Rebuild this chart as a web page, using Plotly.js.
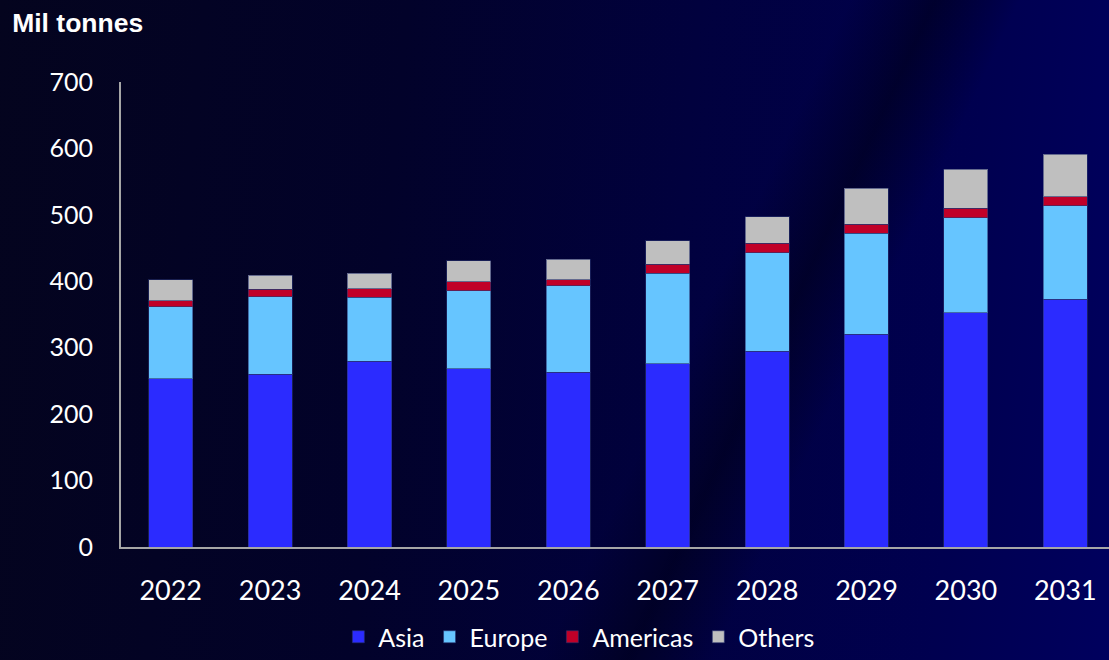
<!DOCTYPE html>
<html>
<head>
<meta charset="utf-8">
<script src="https://cdn.plot.ly/plotly-3.0.1.min.js"></script>
<style>
  html, body { margin:0; padding:0; width:1109px; height:660px; overflow:hidden; }
  body {
    background:
      linear-gradient(115deg, rgba(0,0,0,0) 0%, rgba(0,0,0,0) 60%, rgba(0,0,20,0.55) 66%, rgba(0,0,0,0) 72%, rgba(0,0,0,0) 100%),
      linear-gradient(95deg, #04041e 0%, #02022a 35%, #01013e 60%, #000050 85%, #00005e 100%);
  }
  #chart { width:1109px; height:660px; }
</style>
</head>
<body>
<div id="chart"></div>
<script>
const years = ['2022','2023','2024','2025','2026','2027','2028','2029','2030','2031'];
const asia     = [253, 260, 280, 268, 263, 276, 295, 320, 353, 373];
const europe   = [109, 117,  96, 118, 130, 136, 148, 152, 143, 141];
const americas = [  9,  11,  13,  13,   9,  14,  14,  14,  14,  13];
const others   = [ 31,  21,  23,  32,  31,  35,  40,  54,  59,  64];
const yTicks   = [0, 100, 200, 300, 400, 500, 600, 700];

const series = [
  {name:'Asia', values: asia, color:'#2b2bff'},
  {name:'Europe', values: europe, color:'#66c5ff'},
  {name:'Americas', values: americas, color:'#c00028'},
  {name:'Others', values: others, color:'#bfbfbf'}
];

const traces = series.map(s => ({
  type:'bar', name:s.name, x:years, y:s.values,
  marker:{color:s.color, line:{color:'rgba(40,50,110,0.6)', width:1}},
  hoverinfo:'skip'
}));

const tickFont = {family:'Lato, "Open Sans", sans-serif', size:25, color:'#ffffff'};

const layout = {
  width:1109, height:660,
  paper_bgcolor:'rgba(0,0,0,0)', plot_bgcolor:'rgba(0,0,0,0)',
  barmode:'stack', bargap:0.557,
  margin:{l:121, r:0, t:82, b:113, pad:0, autoexpand:false},
  title:{text:'<b>Mil tonnes</b>', x:0.011, xanchor:'left', y:0.966, yanchor:'middle',
         font:{family:'"Liberation Sans", Arial, sans-serif', size:26.5, color:'#ffffff'}},
  xaxis:{type:'category', range:[-0.5, 9.44], showgrid:false, zeroline:false,
         showline:true, linecolor:'#a6a6a6', linewidth:2, ticks:'', automargin:false,
         tickfont:{family:tickFont.family, size:27, color:'#ffffff'}, ticklabelstandoff:19},
  yaxis:{range:[0,700], tickvals:yTicks, showgrid:false, zeroline:false,
         showline:true, linecolor:'#a6a6a6', linewidth:2, ticks:'', automargin:false,
         tickfont:tickFont, ticklabelstandoff:21},
  showlegend:true,
  legend:{orientation:'h', x:0.22, xanchor:'left', yref:'container', y:0.0, yanchor:'bottom',
          font:{family:tickFont.family, size:25, color:'#ffffff'},
          bgcolor:'rgba(0,0,0,0)', traceorder:'normal'},
};

Plotly.newPlot('chart', traces, layout, {displayModeBar:false, staticPlot:true});
</script>
</body>
</html>
